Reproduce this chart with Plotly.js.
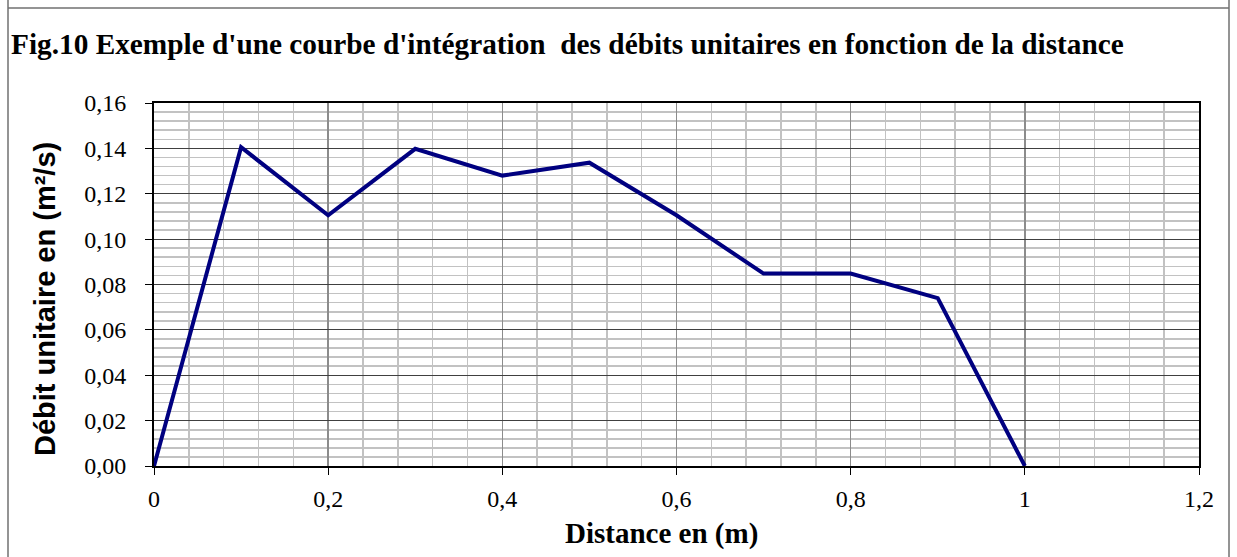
<!DOCTYPE html>
<html>
<head>
<meta charset="utf-8">
<script src="https://cdn.plot.ly/plotly-3.0.1.min.js"></script>
<style>
html,body{margin:0;padding:0;background:#fff;}
#chart{width:1237px;height:557px;}
</style>
</head>
<body>
<div id="chart"></div>
<script>
var distance = [0, 0.1, 0.2, 0.3, 0.4, 0.5, 0.6, 0.7, 0.8, 0.9, 1.0];
var debit = [0, 0.1405, 0.1105, 0.1398, 0.128, 0.1337, 0.1105, 0.0848, 0.0848, 0.074, 0];
var chartTitle = "Fig.10 Exemple d'une courbe d'intégration  des débits unitaires en fonction de la distance";
var xTitle = "Distance en (m)";
var yTitle = "Débit unitaire en (m²/s)";

var W = 1237, H = 557;
var mL = 154, mR = 38, mT = 103, mB = 91;
var pw = W - mL - mR, ph = H - mT - mB;
function px(x){ return (x - mL) / pw; }
function py(y){ return (H - mB - y) / ph; }

var trace = {
  x: distance, y: debit, type: 'scatter', mode: 'lines',
  line: {color: '#000080', width: 4}, hoverinfo: 'skip'
};

var serif = 'Liberation Serif, Times New Roman, serif';
var layout = {
  width: W, height: H,
  margin: {l: mL, r: mR, t: mT, b: mB},
  paper_bgcolor: '#ffffff', plot_bgcolor: '#ffffff',
  separators: ', ',
  showlegend: false,
  font: {family: serif, size: 24, color: '#000'},
  title: {
    text: '<b>' + chartTitle + '</b>',
    font: {family: serif, size: 29.3, color: '#000'},
    x: 11 / W, xanchor: 'left', xref: 'container',
    y: 1 - 44 / H, yanchor: 'middle', yref: 'container'
  },
  xaxis: {
    range: [0, 1.2], dtick: 0.2, tick0: 0,
    showgrid: true, gridcolor: '#8c8c8c', gridwidth: 1.5,
    minor: {dtick: 0.04, tick0: 0, showgrid: true, gridcolor: '#c2c2c2', gridwidth: 1.6, ticks: ''},
    zeroline: false,
    showline: true, linecolor: '#000', linewidth: 2, mirror: true,
    ticks: 'outside', ticklen: 7, tickcolor: '#000', tickwidth: 1,
    ticklabelstandoff: 3,
    tickfont: {family: serif, size: 24, color: '#000'}
  },
  yaxis: {
    range: [0, 0.16], dtick: 0.02, tick0: 0, tickformat: '.2f',
    showgrid: true, gridcolor: '#404040', gridwidth: 1.2,
    minor: {dtick: 0.004, tick0: 0, showgrid: true, gridcolor: '#c2c2c2', gridwidth: 1.6, ticks: ''},
    zeroline: false,
    showline: true, linecolor: '#000', linewidth: 2, mirror: true,
    ticks: 'outside', ticklen: 7, tickcolor: '#000', tickwidth: 1,
    ticklabelstandoff: 14,
    tickfont: {family: serif, size: 24, color: '#000'}
  },
  annotations: [
    {text: '<b>' + xTitle + '</b>', xref: 'paper', yref: 'paper', x: px(661), y: py(533),
     xanchor: 'center', yanchor: 'middle', showarrow: false,
     font: {family: serif, size: 29, color: '#000'}},
    {text: '<b>' + yTitle + '</b>', xref: 'paper', yref: 'paper', x: px(45), y: py(299),
     xanchor: 'center', yanchor: 'middle', showarrow: false, textangle: -90,
     font: {family: 'Liberation Sans, Arial, sans-serif', size: 29, color: '#000'}}
  ],
  shapes: [
    {type: 'line', xref: 'paper', yref: 'paper', x0: px(8), x1: px(8), y0: py(0), y1: py(H), line: {color: '#707070', width: 1.5}},
    {type: 'line', xref: 'paper', yref: 'paper', x0: px(1229), x1: px(1229), y0: py(0), y1: py(H), line: {color: '#707070', width: 1.5}},
    {type: 'line', xref: 'paper', yref: 'paper', x0: px(8), x1: px(1229), y0: py(8), y1: py(8), line: {color: '#707070', width: 1.5}}
  ]
};

Plotly.newPlot('chart', [trace], layout, {staticPlot: true, displayModeBar: false});
</script>
</body>
</html>
